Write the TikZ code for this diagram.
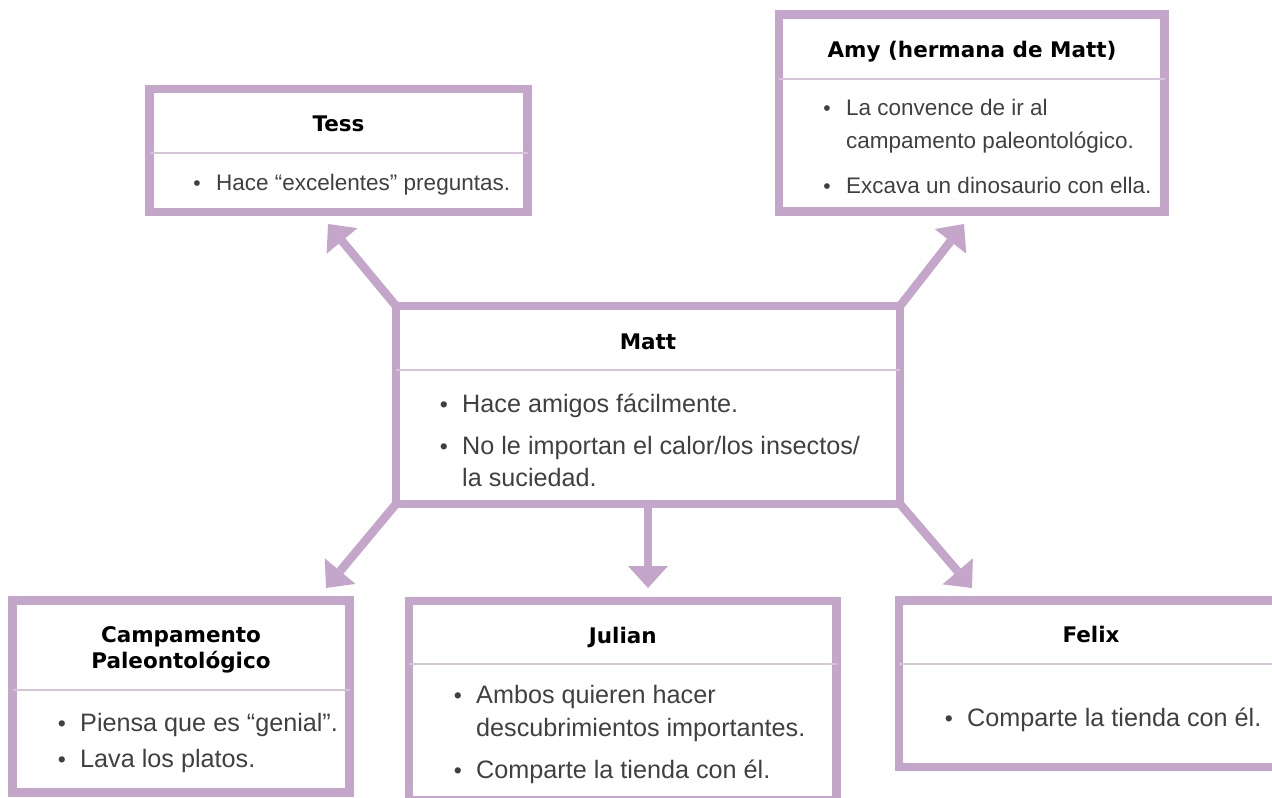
\documentclass[tikz,border=0pt]{standalone}
\usepackage{fontspec}
\setmainfont{Liberation Sans}
\newfontfamily\titlefamily{DejaVu Sans}
\usetikzlibrary{arrows.meta}
\definecolor{frame}{HTML}{C3A6C9}
\definecolor{rulecol}{HTML}{D6C3DB}
\definecolor{bodytext}{HTML}{404040}

\begin{document}
\begin{tikzpicture}[x=1pt,y=-1pt,
  card/.style={draw=frame, line width=8.5pt, rectangle, inner sep=0pt, outer sep=0pt},
  divider/.style={draw=rulecol, line width=1.5pt},
  link/.style={draw=frame, line width=8.5pt, -{Triangle[width=40pt,length=22pt,line width=0pt]}},
  heading/.style={font=\titlefamily\bfseries\fontsize{21.5}{25}\selectfont, text=black, anchor=base, inner sep=0pt},
  smalltext/.style={font=\fontsize{22.5}{27}\selectfont, text=bodytext, anchor=base west, inner sep=0pt},
  largetext/.style={font=\fontsize{25.2}{30}\selectfont, text=bodytext, anchor=base west, inner sep=0pt},
  smalldot/.style={font=\fontsize{21}{21}\selectfont, text=bodytext, anchor=base, inner sep=0pt},
  largedot/.style={font=\fontsize{23}{23}\selectfont, text=bodytext, anchor=base, inner sep=0pt}
]
\useasboundingbox (0,0) rectangle (1272,798);
\clip (0,0) rectangle (1272,798);

% cards
\node[card, minimum width=378pt, minimum height=123pt] (tess) at (338.5,150.5) {};
\node[card, minimum width=385.5pt, minimum height=197pt] (amy) at (971.75,113) {};
\node[card, minimum width=504pt, minimum height=198pt] (matt) at (648,405) {};
\node[card, minimum width=337pt, minimum height=192pt] (camp) at (181,696.5) {};
\node[card, minimum width=427.5pt, minimum height=199pt] (julian) at (622.75,700.5) {};
\node[card, minimum width=384pt, minimum height=166.5pt] (felix) at (1091,683.75) {};

% header dividers
\draw[divider] (tess.west |- 0,153) -- (tess.east |- 0,153);
\draw[divider] (amy.west |- 0,79) -- (amy.east |- 0,79);
\draw[divider] (matt.west |- 0,370) -- (matt.east |- 0,370);
\draw[divider] (camp.west |- 0,690) -- (camp.east |- 0,690);
\draw[divider] (julian.west |- 0,664) -- (julian.east |- 0,664);
\draw[divider] (felix.west |- 0,664) -- (felix.east |- 0,664);

% arrow tips
\coordinate (tipTess) at (328,224);
\coordinate (tipAmy) at (964,224);
\coordinate (tipCamp) at (326,588);
\coordinate (tipJulian) at (648,588);
\coordinate (tipFelix) at (972,588);

\draw[link] (matt.north west) -- (tipTess);
\draw[link] (matt.north east) -- (tipAmy);
\draw[link] (matt.south west) -- (tipCamp);
\draw[link] (matt.south) -- (tipJulian);
\draw[link] (matt.south east) -- (tipFelix);

% Tess
\node[heading] (tessT) at (338.5,131) {Tess};
\node[smalldot] (tessB1) at (197,190) {•};
\node[smalltext] (tess1) at (216,190) {Hace “excelentes” preguntas.};

% Amy
\node[heading] (amyT) at (972,57) {Amy (hermana de Matt)};
\node[smalldot] (amyB1) at (827,115) {•};
\node[smalltext] (amy1a) at (846,115) {La convence de ir al};
\node[smalltext] (amy1b) at (846,148) {campamento paleontológico.};
\node[smalldot] (amyB2) at (827,193) {•};
\node[smalltext] (amy2) at (846,193) {Excava un dinosaurio con ella.};

% Matt
\node[heading] (mattT) at (648,349) {Matt};
\node[largedot] (mattB1) at (444,412) {•};
\node[largetext] (matt1) at (462,412) {Hace amigos fácilmente.};
\node[largedot] (mattB2) at (444,454) {•};
\node[largetext] (matt2a) at (462,454) {No le importan el calor/los insectos/};
\node[largetext] (matt2b) at (462,486) {la suciedad.};

% Campamento
\node[heading] (campT1) at (181,642) {Campamento};
\node[heading] (campT2) at (181,668) {Paleontológico};
\node[largedot] (campB1) at (62,731) {•};
\node[largetext] (camp1) at (80,731) {Piensa que es “genial”.};
\node[largedot] (campB2) at (62,767) {•};
\node[largetext] (camp2) at (80,767) {Lava los platos.};

% Julian
\node[heading] (julianT) at (622.75,643) {Julian};
\node[largedot] (julianB1) at (458,703) {•};
\node[largetext] (julian1a) at (476,703) {Ambos quieren hacer};
\node[largetext] (julian1b) at (476,736) {descubrimientos importantes.};
\node[largedot] (julianB2) at (458,778) {•};
\node[largetext] (julian2) at (476,778) {Comparte la tienda con él.};

% Felix
\node[heading] (felixT) at (1091,642) {Felix};
\node[largedot] (felixB1) at (949,726) {•};
\node[largetext] (felix1) at (967,726) {Comparte la tienda con él.};
\end{tikzpicture}
\end{document}
